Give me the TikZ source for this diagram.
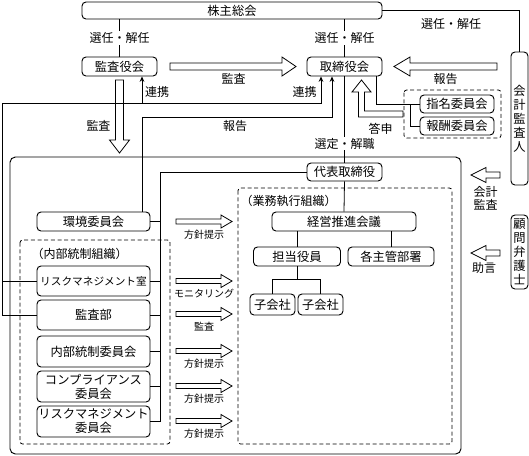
\documentclass[tikz,border=0pt]{standalone}
\usepackage{fontspec}
\setmainfont{Noto Sans CJK JP}
\usetikzlibrary{calc,arrows.meta}

\begin{document}
\begin{tikzpicture}
[x=0.75pt,y=-0.75pt,line width=0.6pt,%
  box/.style={draw,line width=0.7pt,rounded corners=3pt,inner sep=0pt,
    minimum height=14.25pt,font=\fontsize{9.2}{10.5}\selectfont,align=center},
  grp/.style={draw,dash pattern=on 3pt off 2pt,rounded corners=2pt},
  lbl/.style={font=\fontsize{9}{10}\selectfont,inner sep=1pt,align=center},
  slbl/.style={font=\fontsize{7.5}{9}\selectfont,inner sep=1pt},
  blk/.style={draw,line width=0.6pt},
  link/.style={-{Stealth[length=4pt,width=3.5pt]}}]

\useasboundingbox (0,0) rectangle (529,455);

% top level
\node[box,minimum width=225pt,minimum height=12.75pt] (kabunushi) at (232,10.5) {株主総会};
\node[box,minimum width=56.25pt] (kansayaku) at (119.5,66.5) {監査役会};
\node[box,minimum width=56.25pt] (torishimari) at (344.5,66.5) {取締役会};
\node[box,minimum width=12.75pt,minimum height=99.75pt] (kaikei) at (519.5,118.5) {会\\計\\監\\査\\人};
\node[box,minimum width=12.75pt,minimum height=55.5pt] (komon) at (519.5,252) {顧\\問\\弁\\護\\士};
\node[box,minimum width=55.5pt,minimum height=13.5pt] (shimei) at (457,104) {指名委員会};
\node[box,minimum width=55.5pt,minimum height=13.5pt] (houshu) at (457,126) {報酬委員会};
\draw[grp] (404,90) rectangle (501,138);

% company
\draw[line width=0.7pt,rounded corners=4pt] (10,157) rectangle (461,454);
\node[box,minimum width=56.25pt,minimum height=13.5pt] (daihyo) at (344.5,172) {代表取締役};

% executive side
\draw[grp] (238,188) rectangle (452,444);
\node[lbl,anchor=west] at (239,201) {（業務執行組織）};
\node[box,minimum width=108pt] (keiei) at (344,221.5) {経営推進会議};
\node[box,minimum width=65.25pt] (tanto) at (297,256.5) {担当役員};
\node[box,minimum width=64.5pt] (shukan) at (391,256.5) {各主管部署};
\node[box,minimum width=33.75pt,minimum height=15.75pt] (kogaisha1) at (272.5,304.5) {子会社};
\node[box,minimum width=33.75pt,minimum height=15.75pt] (kogaisha2) at (320.5,304.5) {子会社};

% internal control side
\node[box,minimum width=84.75pt] (kankyo) at (93.5,221.5) {環境委員会};
\draw[grp] (20,240) rectangle (170,444);
\node[lbl,anchor=west] at (30,254) {（内部統制組織）};
\node[box,minimum width=84.75pt,minimum height=22.5pt,font=\fontsize{8}{10}\selectfont] (riskroom) at (93.5,281) {リスクマネジメント室};
\node[box,minimum width=84.75pt,minimum height=22.5pt] (kansabu) at (93.5,315) {監査部};
\node[box,minimum width=84.75pt,minimum height=23.25pt] (naibu) at (93.5,351.5) {内部統制委員会};
\node[box,minimum width=84.75pt,minimum height=23.25pt] (compliance) at (93.5,386.5) {コンプライアンス\\委員会};
\node[box,minimum width=84.75pt,minimum height=23.25pt] (riskcomm) at (93.5,421.5) {リスクマネジメント\\委員会};

% election lines
\draw (kansayaku.north) -- (kansayaku.north |- kabunushi.south)
  node[lbl,fill=white,midway] {選任・解任};
\draw (torishimari.north) -- (torishimari.north |- kabunushi.south)
  node[lbl,fill=white,midway] {選任・解任};
\draw (kabunushi.east) -| (kaikei.north);
\node[lbl] at (451,24) {選任・解任};
\draw (torishimari.south) -- (daihyo.north)
  node[lbl,fill=white,pos=0.78] {選定・解職};

% executive tree
\draw (daihyo.west) -| ($(riskcomm.east)+(10,0)$) -- (riskcomm.east);
\foreach \n in {kankyo,riskroom,kansabu,naibu,compliance}
  \draw (\n.east) -- +(10,0);
\draw (daihyo.south) -- (keiei.north);
\draw (tanto.north) -- (tanto.north |- keiei.south);
\draw (shukan.north) -- (shukan.north |- keiei.south);
\coordinate (kb) at ($(tanto.south)+(0,13)$);
\draw (tanto.south) -- (kb);
\draw (kogaisha1.north) |- (kb) -| (kogaisha2.north);

% cooperation and reports
\coordinate (lb) at (2,103);
\coordinate (t1) at ($(torishimari.south)+(-23.5,0)$);
\coordinate (t2) at ($(torishimari.south)+(-12.5,0)$);
\coordinate (t3) at ($(torishimari.south)+(31.5,0)$);
\coordinate (k1) at ($(kansayaku.south)+(22.5,0)$);
\coordinate (rp) at ($(k1)+(0,41)$);
\draw[link] (kansabu.west) -| (lb) -| (t1);
\draw[link] (k1 |- lb) -- (k1);
\draw (riskroom.west) -- (riskroom.west -| lb);
\draw[link] (kankyo.north -| rp) -- (rp) -| (t2);
\draw (t3) |- (shimei.west);
\coordinate (br) at ($(shimei.west)+(-9,0)$);
\draw (br) |- (houshu.west);
\node[lbl] at (157,92) {連携};
\node[lbl] at (304.5,92) {連携};
\node[lbl] at (235,125.5) {報告};

% hollow arrows
\draw[blk] (170,63) -- (282,63) -- (282,57) -- (296,66.5) -- (282,76) -- (282,70) -- (170,70) -- cycle;
\node[lbl] at (233.5,78.5) {監査};
\draw[blk] (497,63) -- (410,63) -- (410,57) -- (394,66.5) -- (410,76) -- (410,70) -- (497,70) -- cycle;
\node[lbl] at (445.5,79) {報告};
\draw[blk] (115.5,80) -- (115.5,140) -- (109.5,140) -- (119.5,153) -- (129.5,140) -- (123.5,140) -- (123.5,80) -- cycle;
\node[lbl] at (98.5,126) {監査};
\draw[blk] (403,117) -- (358.5,117) -- (358.5,92) -- (352,92) -- (361.5,80) -- (371,92) -- (364.5,92) -- (364.5,111) -- (403,111) -- cycle;
\node[lbl] at (380.5,128.5) {答申};
\foreach \y in {175,253}
  \draw[blk,shift={(0,\y)}] (500,-3) -- (486,-3) -- (486,-7.5) -- (471,0) -- (486,7.5) -- (486,3) -- (500,3) -- cycle;
\node[lbl] at (485.5,198.5) {会計\\監査};
\node[lbl] at (484,268) {助言};
\foreach \y/\t in {221.5/方針提示,281/モニタリング,314/監査,351/方針提示,386/方針提示,421/方針提示}
{
  \draw[blk,shift={(0,\y)}] (176,-2.5) -- (221,-2.5) -- (221,-6.5) -- (232,0) -- (221,6.5) -- (221,2.5) -- (176,2.5) -- cycle;
  \node[slbl] at (204,{\y+13}) {\t};
}
\end{tikzpicture}
\end{document}
